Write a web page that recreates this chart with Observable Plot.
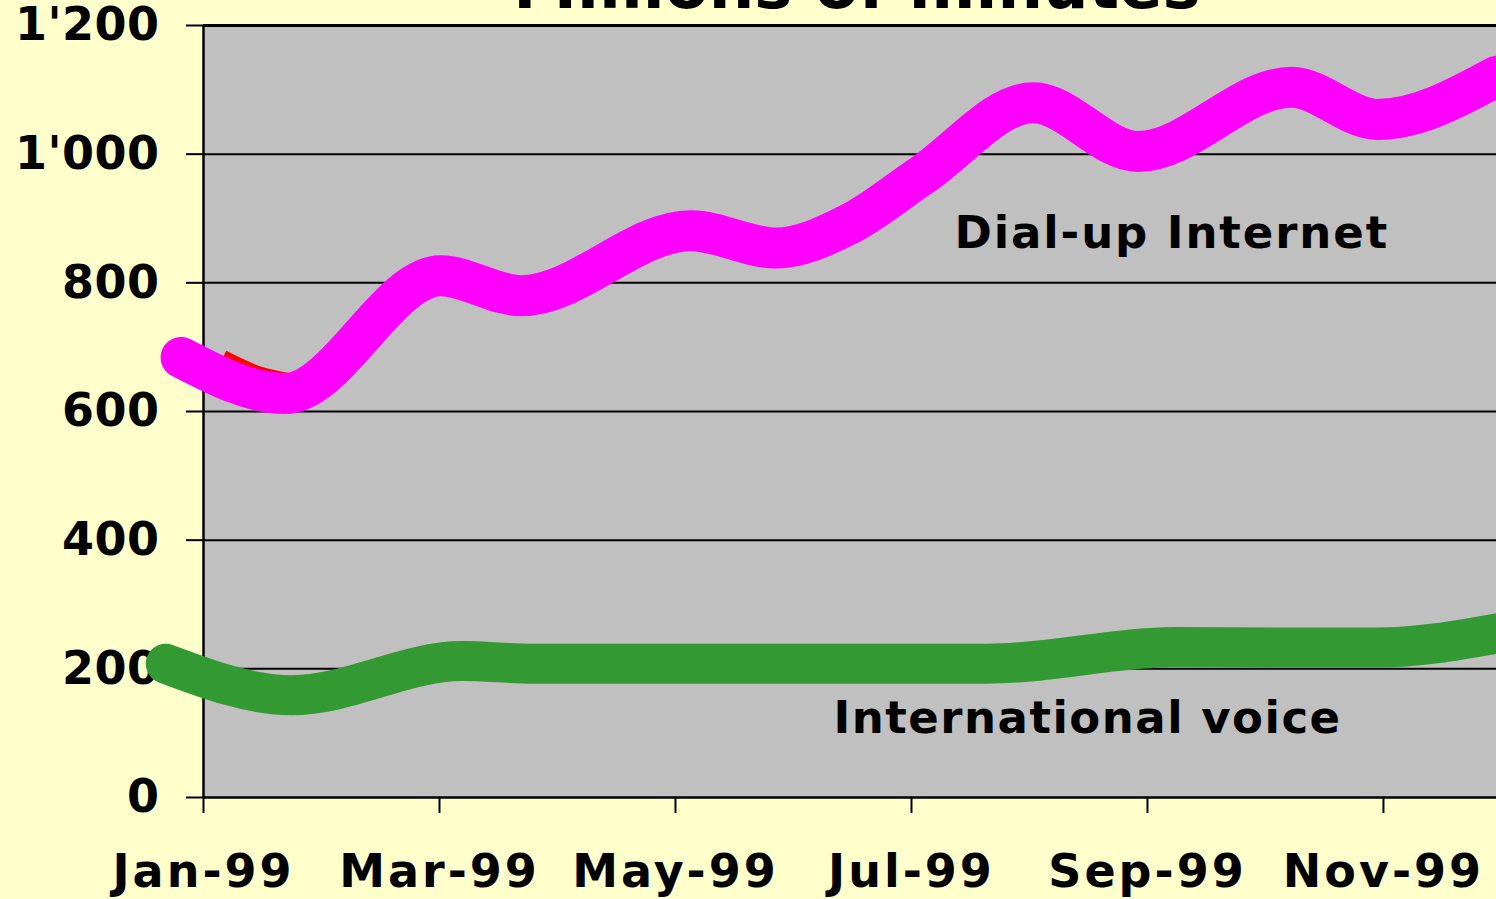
<!DOCTYPE html>
<html>
<head>
<meta charset="utf-8">
<script src="https://cdn.jsdelivr.net/npm/d3@7"></script>
<script src="https://cdn.jsdelivr.net/npm/@observablehq/plot@0.6"></script>
<style>
  html, body { margin: 0; padding: 0; background: #FFFFCC; overflow: hidden; }
  #chart svg { display: block; }
  g[aria-label="x-axis tick label"] text { letter-spacing: 3px; }
  g[aria-label="y-axis tick label"] text { letter-spacing: 0.5px; }
  g[aria-description="series label a"] text { letter-spacing: 1.9px; }
  g[aria-description="series label b"] text { letter-spacing: 1.5px; }
</style>
</head>
<body>
<div id="chart"></div>
<script>
// Month index: 0 = Jan-99 ... 11 = Dec-99 (fractional positions)
const monthTicks = [0, 2, 4, 6, 8, 10];
const monthLabels = ["Jan-99", "Mar-99", "May-99", "Jul-99", "Sep-99", "Nov-99"];
const valueTicks = [0, 200, 400, 600, 800, 1000, 1200];
const valueLabels = ["0", "200", "400", "600", "800", "1'000", "1'200"];

// Dial-up Internet (millions of minutes)
const dialupX = [-0.19, 0.69, 2.01, 2.69, 4.13, 4.85, 5.48, 6.08, 7.03, 7.92, 9.22, 9.95, 10.96];
const dialupY = [684, 628, 811, 780, 881, 854, 892, 966, 1080, 1004, 1104, 1054, 1121];

// Underlying red trace visible near the start
const redX = [0.12, 0.45, 0.72];
const redY = [668, 641, 630];

// International voice (millions of minutes)
const voiceX = [-0.32, 0.75, 2.19, 2.8, 4.7, 6.64, 8.25, 9.1, 9.95, 10.96];
const voiceY = [208, 159, 212, 208, 208, 208, 234, 233, 233, 255];

const title = "Millions of minutes";
const seriesNames = ["Dial-up Internet", "International voice"];

const dialup = dialupX.map((x, i) => ({x, y: dialupY[i]}));
const red = redX.map((x, i) => ({x, y: redY[i]}));
const voice = voiceX.map((x, i) => ({x, y: voiceY[i]}));

const plot = Plot.plot({
  width: 1496,
  height: 899,
  marginLeft: 203,
  marginRight: 0,
  marginTop: 25,
  marginBottom: 102,
  style: {background: "#FFFFCC", fontFamily: "'DejaVu Sans', Verdana, sans-serif", fontWeight: "bold", color: "black", overflow: "hidden"},
  x: {domain: [0, 10.958]},
  y: {domain: [0, 1200]},
  marks: [
    Plot.frame({fill: "#C0C0C0", stroke: null}),
    Plot.ruleY(valueTicks.filter(d => d > 0 && d < 1200), {stroke: "black", strokeWidth: 2}),
    Plot.ruleY([1200], {stroke: "black", strokeWidth: 3}),
    Plot.ruleY([0], {stroke: "black", strokeWidth: 2.5}),
    Plot.ruleX([0], {stroke: "black", strokeWidth: 2.5}),
    Plot.axisY({ticks: valueTicks, tickFormat: d => valueLabels[valueTicks.indexOf(d)], tickSize: 17, tickPadding: 27, strokeWidth: 2, fontSize: 46, label: null, stroke: "black"}),
    Plot.axisX({ticks: monthTicks, tickFormat: d => monthLabels[monthTicks.indexOf(d)], tickSize: 16, tickPadding: 41, strokeWidth: 2, fontSize: 46, label: null, stroke: "black"}),
    Plot.line(red, {x: "x", y: "y", stroke: "#FF0000", strokeWidth: 38, strokeLinecap: "butt", strokeLinejoin: "round", curve: "monotone-x"}),
    Plot.line(dialup, {x: "x", y: "y", stroke: "#FF00FF", strokeWidth: 41, strokeLinecap: "round", strokeLinejoin: "round", curve: "monotone-x"}),
    Plot.line(voice, {x: "x", y: "y", stroke: "#339933", strokeWidth: 40, strokeLinecap: "round", strokeLinejoin: "round", curve: "monotone-x"}),
    Plot.text([seriesNames[0]], {x: 6.364, y: 877, text: d => d, textAnchor: "start", lineAnchor: "middle", fontSize: 45, fill: "black", ariaDescription: "series label a"}),
    Plot.text([seriesNames[1]], {x: 5.339, y: 122, text: d => d, textAnchor: "start", lineAnchor: "middle", fontSize: 45, fill: "black", ariaDescription: "series label b"}),
    Plot.text([title], {frameAnchor: "top", text: d => d, lineAnchor: "middle", dy: -38, dx: 7, fontSize: 64, fill: "black"})
  ]
});
document.getElementById("chart").appendChild(plot);
</script>
</body>
</html>
